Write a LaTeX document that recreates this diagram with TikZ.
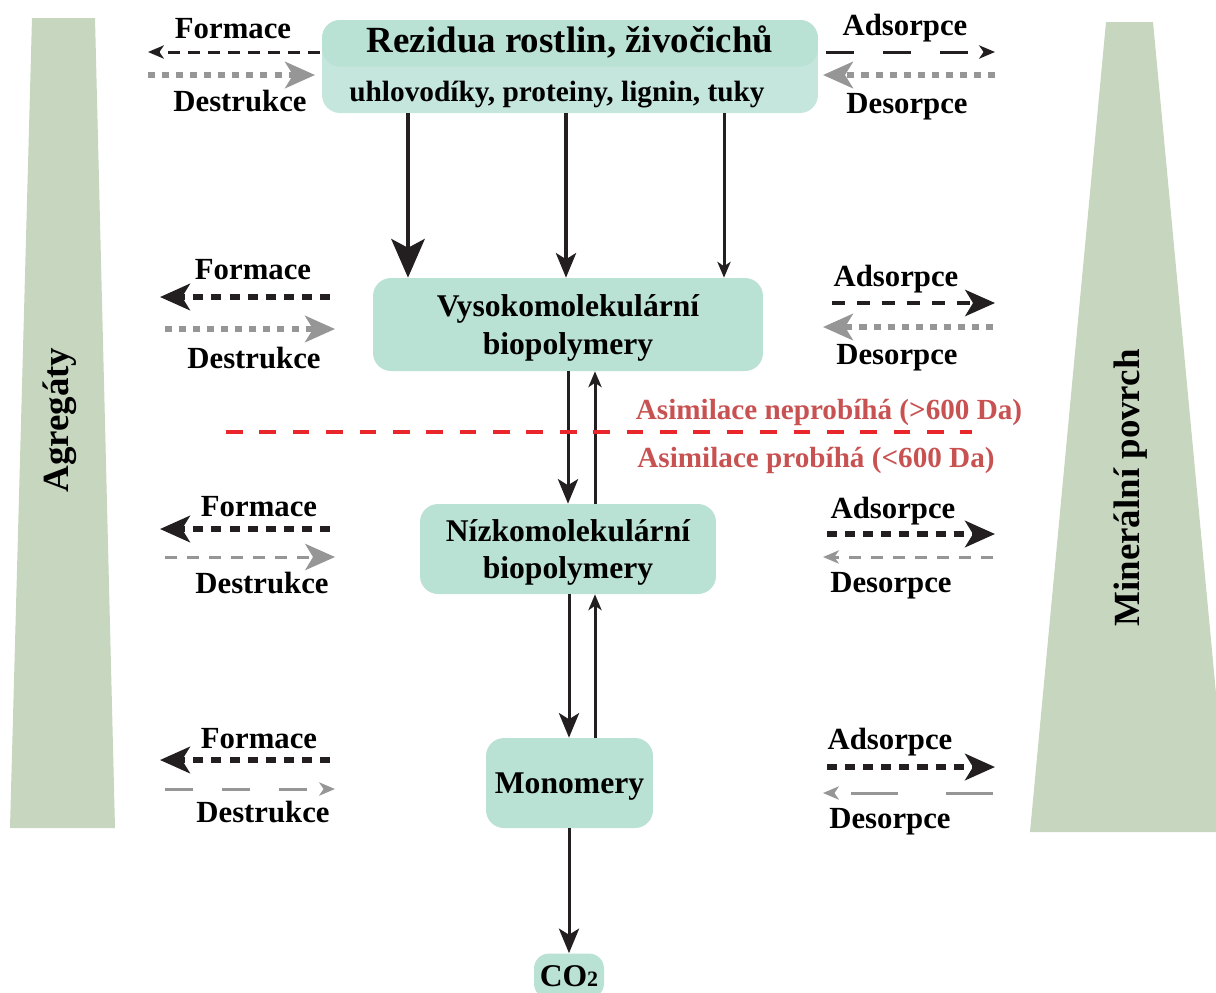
\documentclass[tikz,border=0pt]{standalone}
\usepackage{fontspec}
\setmainfont{Liberation Serif}
\usetikzlibrary{arrows.meta}

\definecolor{boxgreen}{RGB}{185,225,212}
\definecolor{boxlight}{RGB}{197,230,220}
\definecolor{sidegreen}{RGB}{198,214,191}
\definecolor{arrowblack}{RGB}{35,31,32}
\definecolor{arrowgray}{RGB}{150,150,150}
\definecolor{linered}{RGB}{232,38,43}
\definecolor{textred}{RGB}{200,82,82}

\tikzset{
  hugehead/.tip={Stealth[length=22pt, width=19pt, inset=5pt]},
  bighead/.tip={Stealth[length=17pt, width=15pt, inset=4.5pt]},
  midhead/.tip={Stealth[length=14pt, width=11.5pt, inset=3.5pt]},
  smallhead/.tip={Stealth[length=9pt, width=7.5pt, inset=2.5pt]},
}

\begin{document}
\begin{tikzpicture}[x=0.02cm, y=-0.02cm,
  box/.style={rounded corners=0.36cm, fill=boxgreen, inner sep=0pt, align=center, text depth=0pt,
    font=\fontsize{18}{21.5}\selectfont\bfseries},
  lbl/.style={inner sep=0pt, anchor=base, font=\fontsize{17.5}{21}\selectfont\bfseries},
  redlbl/.style={inner sep=0pt, anchor=base, text=textred, font=\fontsize{16.6}{20}\selectfont\bfseries},
  side/.style={rotate=90, inner sep=0pt, font=\fontsize{21}{25}\selectfont\bfseries},
  flow/.style={draw=arrowblack, line width=1.7pt},
  blackdash/.style={draw=arrowblack, line width=1.7pt, dash pattern=on 6.8pt off 4.6pt},
  blackdot/.style={draw=arrowblack, line width=3.2pt, dash pattern=on 5.7pt off 4.6pt},
  blacklong/.style={draw=arrowblack, line width=1.7pt, dash pattern=on 16pt off 16.5pt},
  graydot/.style={draw=arrowgray, line width=3.4pt, dash pattern=on 4pt off 4pt},
  graydash/.style={draw=arrowgray, line width=1.7pt, dash pattern=on 6.8pt off 5.7pt},
  graylong/.style={draw=arrowgray, line width=1.7pt, dash pattern=on 16pt off 16.5pt}]

\useasboundingbox (0,0) rectangle (1216,992);

\fill [sidegreen] (32,18) -- (95,18) -- (115,828) -- (10,828) -- cycle;
\fill [sidegreen] (1106,22) -- (1153,22) -- (1229,832) -- (1030,832) -- cycle;
\node [side] (agreg) at (60,420) {Agregáty};
\node [side] (miner) at (1131,488) {Minerální povrch};

\node [box, fill=boxlight, minimum width=9.92cm, minimum height=1.86cm,
  path picture={\fill [boxgreen] (path picture bounding box.north west) rectangle (path picture bounding box.east);}]
  (rez) at (570,66.5) {};
\node [lbl, font=\fontsize{21}{25}\selectfont\bfseries] (reztitle) at (570,52) {Rezidua rostlin, živočichů};
\node [lbl, font=\fontsize{16.7}{20}\selectfont\bfseries] (rezsub) at (557,101) {uhlovodíky, proteiny, lignin, tuky};

\node [box, minimum width=7.8cm, minimum height=1.86cm] (vyso) at (568,324.5) {Vysokomolekulární\\biopolymery};
\node [box, minimum width=5.92cm, minimum height=1.8cm] (nizko) at (568,549) {Nízkomolekulární\\biopolymery};
\node [box, minimum width=3.34cm, minimum height=1.8cm] (mono) at (569.5,783) {Monomery};
\node [box, rounded corners=0.3cm, minimum width=1.4cm, minimum height=0.9cm] (co2) at (569,976) {CO{\fontsize{12.5}{13}\selectfont 2}};

\draw [flow, line width=2.3pt, -{hugehead}] (rez.south -| 408,0) -- (vyso.north -| 408,0);
\draw [flow, line width=1.9pt, -{midhead}] (rez.south -| 566,0) -- (vyso.north -| 566,0);
\draw [flow, -{smallhead}] (rez.south -| 724,0) -- (vyso.north -| 724,0);
\draw [flow, -{midhead}] (vyso.south -| 568,0) -- (nizko.north -| 568,0);
\draw [flow, -{smallhead}] (nizko.north -| 595,0) -- (vyso.south -| 595,0);
\draw [flow, -{midhead}] (nizko.south -| 569,0) -- (mono.north -| 569,0);
\draw [flow, -{smallhead}] (mono.north -| 595,0) -- (nizko.south -| 595,0);
\draw [flow, -{midhead}] (mono.south -| 569,0) -- (co2.north -| 569,0);

\coordinate (redl) at (226,432);
\coordinate (redr) at (972,432);
\draw [linered, line width=1.8pt, dash pattern=on 9.5pt off 9.5pt] (redl) -- (redr);
\node [redlbl] (nepro) at (829,419) {Asimilace neprobíhá (>600 Da)};
\node [redlbl] (pro) at (816,467) {Asimilace probíhá (<600 Da)};

\coordinate (fo1r) at (320,52); \coordinate (fo1l) at (148,52);
\coordinate (de1l) at (148,75); \coordinate (de1r) at (315,75);
\coordinate (fo2r) at (330,297); \coordinate (fo2l) at (160,297);
\coordinate (de2l) at (165,329); \coordinate (de2r) at (335,329);
\coordinate (fo3r) at (330,529); \coordinate (fo3l) at (160,529);
\coordinate (de3l) at (165,557); \coordinate (de3r) at (335,557);
\coordinate (fo4r) at (330,760); \coordinate (fo4l) at (160,760);
\coordinate (de4l) at (165,789); \coordinate (de4r) at (335,789);

\coordinate (ad1l) at (826,52); \coordinate (ad1r) at (995,52);
\coordinate (ds1r) at (995,75); \coordinate (ds1l) at (823,75);
\coordinate (ad2l) at (832,303); \coordinate (ad2r) at (995,303);
\coordinate (ds2r) at (993,327); \coordinate (ds2l) at (823,327);
\coordinate (ad3l) at (827,534); \coordinate (ad3r) at (995,534);
\coordinate (ds3r) at (993,557); \coordinate (ds3l) at (823,557);
\coordinate (ad4l) at (827,767); \coordinate (ad4r) at (995,767);
\coordinate (ds4r) at (993,793); \coordinate (ds4l) at (823,793);

\draw [blackdash, -{smallhead}] (fo1r) -- (fo1l);
\draw [graydot, -{bighead}] (de1l) -- (de1r);
\draw [blackdot, -{bighead}] (fo2r) -- (fo2l);
\draw [graydot, -{bighead}] (de2l) -- (de2r);
\draw [blackdot, -{bighead}] (fo3r) -- (fo3l);
\draw [graydash, -{bighead}] (de3l) -- (de3r);
\draw [blackdot, -{bighead}] (fo4r) -- (fo4l);
\draw [graylong, -{smallhead}] (de4l) -- (de4r);

\draw [blacklong, -{smallhead}] (ad1l) -- (ad1r);
\draw [graydot, -{bighead}] (ds1r) -- (ds1l);
\draw [blackdash, line width=2.2pt, dash pattern=on 7.4pt off 6.8pt, -{bighead}] (ad2l) -- (ad2r);
\draw [graydot, -{bighead}] (ds2r) -- (ds2l);
\draw [blackdot, -{bighead}] (ad3l) -- (ad3r);
\draw [graydash, -{smallhead}] (ds3r) -- (ds3l);
\draw [blackdot, -{bighead}] (ad4l) -- (ad4r);
\draw [graylong, dash pattern=on 26.7pt off 27.3pt, -{smallhead}] (ds4r) -- (ds4l);

\node [lbl] (fo1) at (233,38) {Formace};
\node [lbl] (de1) at (240,111) {Destrukce};
\node [lbl] (fo2) at (253,279) {Formace};
\node [lbl] (de2) at (254,368) {Destrukce};
\node [lbl] (fo3) at (259,516) {Formace};
\node [lbl] (de3) at (262,593) {Destrukce};
\node [lbl] (fo4) at (259,748) {Formace};
\node [lbl] (de4) at (263,822) {Destrukce};

\node [lbl] (ad1) at (905,35) {Adsorpce};
\node [lbl] (ds1) at (907,113) {Desorpce};
\node [lbl] (ad2) at (896,286) {Adsorpce};
\node [lbl] (ds2) at (897,364) {Desorpce};
\node [lbl] (ad3) at (893,518) {Adsorpce};
\node [lbl] (ds3) at (891,592) {Desorpce};
\node [lbl] (ad4) at (890,749) {Adsorpce};
\node [lbl] (ds4) at (890,828) {Desorpce};

\end{tikzpicture}
\end{document}
